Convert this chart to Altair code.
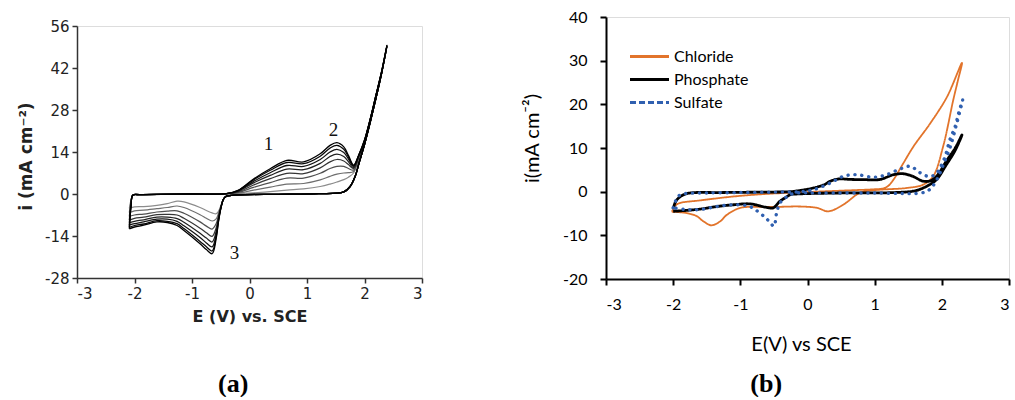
import altair as alt
import pandas as pd

# ---------------- Panel (a): repeated CV cycles (inner -> outer) ----------------
EA = [-2.09, -2.06, -2.03, -1.9, -1.0, -0.4, -0.2, 0.07, 0.36, 0.65, 0.94, 1.23, 1.4,
      1.52, 1.64, 1.72, 1.81, 1.9, 2.0, 2.1, 2.2, 2.3, 2.39]
ANODIC = [
    [-4.8, -2.0, -0.4, -0.2, 0.0, 0.0, 0.1, 0.4, 0.8, 1.3, 1.7, 2.5, 3.3, 4.0, 4.8, 5.6, 7.0, 11.5, 17.0, 24.5, 32.5, 40.5, 49.0],
    [-6.2, -2.4, -0.4, -0.2, 0.0, 0.0, 0.3, 1.3, 2.3, 3.3, 3.5, 4.7, 5.9, 6.6, 7.0, 7.1, 7.5, 11.8, 17.2, 24.6, 32.6, 40.6, 49.1],
    [-7.5, -2.8, -0.4, -0.2, 0.0, 0.0, 0.5, 2.2, 3.8, 5.3, 5.3, 6.9, 8.5, 9.2, 9.2, 8.5, 8.0, 12.1, 17.4, 24.7, 32.7, 40.7, 49.2],
    [-8.7, -3.1, -0.4, -0.2, 0.0, 0.1, 0.7, 3.0, 5.1, 6.9, 6.8, 8.7, 10.7, 11.5, 11.0, 9.8, 8.5, 12.4, 17.6, 24.8, 32.8, 40.8, 49.3],
    [-9.6, -3.4, -0.4, -0.2, 0.0, 0.1, 0.9, 3.7, 6.2, 8.3, 8.1, 10.2, 12.5, 13.3, 12.5, 10.8, 8.8, 12.6, 17.7, 24.9, 32.9, 40.9, 49.4],
    [-10.4, -3.7, -0.4, -0.2, 0.0, 0.1, 1.0, 4.2, 7.1, 9.5, 9.2, 11.5, 14.0, 14.9, 13.8, 11.7, 9.2, 12.8, 17.8, 24.9, 32.9, 40.9, 49.4],
    [-11.1, -3.9, -0.4, -0.2, 0.0, 0.1, 1.1, 4.7, 7.9, 10.5, 10.1, 12.6, 15.3, 16.2, 14.9, 12.4, 9.4, 12.9, 17.9, 25.0, 33.0, 41.0, 49.5],
    [-11.6, -4.0, -0.4, -0.2, 0.0, 0.1, 1.2, 5.0, 8.4, 11.2, 10.7, 13.4, 16.2, 17.1, 15.7, 12.9, 9.6, 13.0, 18.0, 25.0, 33.0, 41.0, 49.5],
]
EC_HEAD = [2.3, 2.2, 2.1, 2.0, 1.9, 1.84, 1.75, 1.64, 1.2, 0.5, -0.2, -0.4, -0.45]
IC_HEAD = [40.5, 32.0, 24.0, 16.5, 10.0, 6.0, 2.5, 0.7, 0.1, -0.1, -0.3, -0.7, -1.6]
EC_TAIL = [-0.5, -0.54, -0.58, -0.65, -0.75, -0.86, -1.14, -1.26, -1.43, -1.61, -1.84, -2.0, -2.09]
CATH_TAIL = [
    [-4.0, -5.8, -6.6, -6.3, -5.5, -4.5, -2.6, -2.4, -3.2, -3.8, -4.2, -4.3, -4.8],
    [-4.2, -6.5, -8.3, -9.0, -8.1, -6.9, -4.5, -4.0, -4.5, -4.9, -5.4, -5.6, -6.2],
    [-4.4, -7.2, -9.9, -11.7, -10.7, -9.3, -6.4, -5.6, -5.7, -6.0, -6.7, -7.0, -7.5],
    [-4.6, -7.8, -11.3, -14.1, -12.9, -11.4, -8.1, -7.0, -6.8, -6.9, -7.7, -8.1, -8.7],
    [-4.7, -8.3, -12.5, -16.0, -14.7, -13.1, -9.4, -8.2, -7.7, -7.7, -8.6, -9.1, -9.6],
    [-4.8, -8.7, -13.5, -17.6, -16.3, -14.5, -10.6, -9.1, -8.4, -8.4, -9.3, -9.9, -10.4],
    [-4.9, -9.1, -14.3, -19.0, -17.6, -15.8, -11.5, -9.9, -9.1, -8.9, -10.0, -10.5, -11.1],
    [-5.0, -9.3, -14.9, -19.9, -18.5, -16.6, -12.2, -10.5, -9.5, -9.3, -10.4, -11.0, -11.6],
]
CYCLE_COLORS = ["#8c8c8c", "#6e6e6e", "#505050", "#363636", "#222222", "#141414", "#080808", "#000000"]
CYCLE_WIDTHS = [1.2, 1.3, 1.6, 1.9, 2.3, 2.6, 2.8, 2.8]

PEAK_E = [0.33, 1.46, -0.26]
PEAK_I = [16.8, 21.4, -19.6]
PEAK_TXT = ["1", "2", "3"]

X_TICKS_A = [-3, -2.5, -2, -1.5, -1, -0.5, 0, 0.5, 1, 1.5, 2, 2.5, 3]
Y_TICKS_A = [-28, -21, -14, -7, 0, 7, 14, 21, 28, 35, 42, 49, 56]

# ---------------- Panel (b): three electrolytes ----------------
E_CL = [-2.02, -1.96, -1.9, -1.6, -1.1, -0.6, -0.1, 0.24, 0.7, 1.0, 1.13, 1.2, 1.28, 1.43, 1.58, 1.83, 2.08, 2.30,
        2.24, 2.17, 2.02, 1.87, 1.72, 1.48, 1.08, 0.9, 0.8, 0.73, 0.53, 0.31, 0.14, -0.11, -0.5, -0.75, -1.0,
        -1.2, -1.3, -1.43, -1.55, -1.65, -1.8, -2.02]
I_CL = [-4.6, -3.1, -2.6, -2.0, -1.1, -0.5, -0.15, 0.07, 0.35, 0.55, 0.75, 1.3, 2.75, 6.6, 10.4, 15.7, 21.8, 29.5,
        25.5, 21.0, 10.4, 3.5, 1.6, 0.85, 0.45, 0.2, -0.2, -0.7, -3.0, -4.5, -3.7, -3.4, -3.5, -3.5, -3.7,
        -5.3, -6.8, -7.7, -6.8, -5.6, -4.9, -4.6]
E_PH = [-2.0, -1.97, -1.92, -1.8, -1.28, -0.6, -0.26, -0.1, 0.09, 0.25, 0.34, 0.46, 0.65, 0.84, 1.08, 1.28, 1.43,
        1.57, 1.72, 1.83, 1.92, 2.08, 2.2, 2.30,
        2.2, 2.06, 1.92, 1.77, 1.6, 1.3, 0.5, -0.11, -0.26, -0.31, -0.41, -0.51, -0.61, -0.85, -1.1, -1.35,
        -1.6, -1.9, -2.0]
I_PH = [-4.0, -2.5, -1.45, -0.45, -0.2, -0.1, 0.0, 0.3, 0.85, 1.6, 2.4, 2.9, 2.8, 2.75, 2.8, 3.9, 4.1,
        3.5, 2.4, 2.5, 3.5, 7.3, 10.0, 13.0,
        9.5, 6.0, 2.75, 1.2, 0.2, -0.2, -0.3, -0.5, -0.7, -1.2, -2.2, -3.7, -3.6, -2.8, -3.0, -3.4,
        -4.0, -4.4, -4.5]
E_SU = [-2.0, -1.96, -1.92, -1.84, -1.5, -1.0, -0.5, -0.1, 0.09, 0.34, 0.53, 0.73, 0.98, 1.18, 1.38, 1.53, 1.68,
        1.8, 1.9, 1.97, 2.05, 2.12, 2.2, 2.25, 2.31,
        2.22, 2.12, 2.03, 1.95, 1.85, 1.75, 1.0, 0.2, -0.2, -0.31, -0.41, -0.46, -0.5, -0.56, -0.61, -0.71,
        -0.86, -1.1, -1.35, -1.6, -1.8, -2.0]
I_SU = [-3.7, -2.0, -1.0, -0.5, -0.3, -0.2, -0.1, 0.0, 0.45, 2.0, 3.5, 3.9, 3.3, 3.9, 5.2, 5.8, 4.3,
        3.5, 3.9, 5.4, 8.1, 11.9, 15.0, 18.0, 21.0,
        15.5, 10.0, 6.5, 3.5, 1.0, -0.1, -0.3, -0.3, -0.4, -1.2, -2.6, -4.9, -7.9, -7.0, -6.2, -4.9,
        -3.4, -3.0, -3.4, -4.1, -4.1, -3.7]
SERIES = ["Chloride", "Phosphate", "Sulfate"]
SERIES_COLORS = ["#E2742B", "#000000", "#3060B0"]

X_TICKS_B = [-3, -2, -1, 0, 1, 2, 3]
Y_TICKS_B = [-20, -10, 0, 10, 20, 30, 40]

# ---------------- build tables ----------------
rows_a = []
for k in range(len(ANODIC)):
    loop_e = EA + EC_HEAD + EC_TAIL
    loop_i = ANODIC[k] + IC_HEAD + CATH_TAIL[k]
    for j, (e, i) in enumerate(zip(loop_e, loop_i)):
        rows_a.append({"E": e, "i": i, "cycle": k, "idx": j})
df_a = pd.DataFrame(rows_a)
df_ann = pd.DataFrame({"E": PEAK_E, "i": PEAK_I, "t": PEAK_TXT})

rows_b = []
for name, es, is_ in [("Chloride", E_CL, I_CL), ("Phosphate", E_PH, I_PH), ("Sulfate", E_SU, I_SU)]:
    for j, (e, i) in enumerate(zip(es, is_)):
        rows_b.append({"E": e, "i": i, "series": name, "idx": j})
df_b = pd.DataFrame(rows_b)

# ---------------- panel (a) ----------------
FA = "DejaVu Sans"
ax_a = dict(domainColor="#333333", domainWidth=1.5, tickColor="#333333", tickWidth=1.5, tickSize=5,
            labelFont=FA, labelFontSize=15, labelColor="#222222", titleFont=FA, titleFontSize=16,
            titleFontWeight="bold", titleColor="#222222", grid=False, labelPadding=3)

xa = alt.X("E:Q", scale=alt.Scale(domain=[-3, 3], nice=False, zero=False),
           axis=alt.Axis(values=X_TICKS_A, labelExpr="datum.value % 1 == 0 ? toString(datum.value) : ''",
                         title="E (V) vs. SCE", titlePadding=7, **ax_a))
ya = alt.Y("i:Q", scale=alt.Scale(domain=[-28, 56], nice=False, zero=False),
           axis=alt.Axis(values=Y_TICKS_A, labelExpr="datum.value % 14 == 0 ? toString(datum.value) : ''",
                         title="i (mA cm⁻²)", titlePadding=9, titleY=130, **{**ax_a, "titleFontSize": 17}))

lines_a = alt.Chart(df_a).mark_line(interpolate="catmull-rom").encode(
    x=xa, y=ya, order=alt.Order("idx:Q"),
    color=alt.Color("cycle:O", scale=alt.Scale(domain=list(range(8)), range=CYCLE_COLORS), legend=None),
    strokeWidth=alt.StrokeWidth("cycle:O", scale=alt.Scale(domain=list(range(8)), range=CYCLE_WIDTHS), legend=None),
)
ann_a = alt.Chart(df_ann).mark_text(font="Liberation Serif", fontSize=19, color="#111111").encode(
    x=alt.X("E:Q"), y=alt.Y("i:Q"), text="t:N")

chart_a = alt.layer(lines_a, ann_a).properties(width=345, height=252)
spacer_a = alt.Chart(pd.DataFrame({"v": [0]})).mark_point(opacity=0, size=0).properties(width=345, height=1)
wrap_a = alt.vconcat(spacer_a, chart_a, spacing=0).properties(
    title=alt.TitleParams("(a)", orient="bottom", anchor="middle", font="Liberation Serif", fontSize=26,
                          fontWeight="bold", color="#000000", offset=46, dx=13))

# ---------------- panel (b) ----------------
FB = "Lato"
ax_b = dict(domainColor="#000000", domainWidth=2, tickColor="#000000", tickWidth=2, tickSize=6,
            labelFont=FB, labelFontSize=16, labelColor="#000000", titleFont=FB, titleFontSize=20,
            titleFontWeight="normal", titleColor="#000000", grid=False,
            labelExpr="toString(datum.value)")
xb = alt.X("E:Q", scale=alt.Scale(domain=[-3, 3], nice=False, zero=False),
           axis=alt.Axis(values=X_TICKS_B, title="E(V) vs SCE", labelPadding=11, titlePadding=22,
                         titleX=195, **ax_b))
yb = alt.Y("i:Q", scale=alt.Scale(domain=[-20, 40], nice=False, zero=False),
           axis=alt.Axis(values=Y_TICKS_B, title="i(mA cm⁻²)", labelPadding=13, titlePadding=20,
                         titleY=121, **ax_b))

leg = alt.Legend(title=None, orient="none", legendX=32, legendY=28, symbolType="M-2,0L2,0", symbolSize=380,
                 symbolStrokeWidth=3, labelFont=FB, labelFontSize=16, labelColor="#000000", labelOffset=13,
                 rowPadding=3, padding=0)
col_b = alt.Color("series:N", scale=alt.Scale(domain=SERIES, range=SERIES_COLORS), legend=leg)
dash_b = alt.StrokeDash("series:N", scale=alt.Scale(domain=SERIES, range=[[1, 0], [1, 0], [6, 3]]), legend=leg)

base_b = alt.Chart(df_b).encode(x=xb, y=yb, order=alt.Order("idx:Q"))
cl_b = base_b.transform_filter(alt.datum.series == "Chloride").mark_line(
    interpolate="catmull-rom", strokeWidth=1.8).encode(color=col_b, strokeDash=dash_b)
ph_b = base_b.transform_filter(alt.datum.series == "Phosphate").mark_line(
    interpolate="catmull-rom", strokeWidth=2.8).encode(color=col_b, strokeDash=dash_b)
su_b = base_b.transform_filter(alt.datum.series == "Sulfate").mark_line(
    interpolate="catmull-rom", strokeWidth=3.4, strokeDash=[0.1, 6.8], strokeCap="round").encode(color=col_b)

chart_b = alt.layer(cl_b, ph_b, su_b).properties(width=403, height=262)
wrap_b = alt.vconcat(chart_b).properties(
    title=alt.TitleParams("(b)", orient="bottom", anchor="middle", font="Liberation Serif", fontSize=26,
                          fontWeight="bold", color="#000000", offset=16))

chart = alt.hconcat(wrap_a, wrap_b, spacing=97).resolve_scale(
    color="independent", strokeWidth="independent", strokeDash="independent"
).properties(
    padding={"left": 17, "top": 8, "right": 0, "bottom": 0}
).configure_view(stroke=None).configure(background="white")

chart.save("out.html", embed_options={"renderer": "svg", "actions": False})
